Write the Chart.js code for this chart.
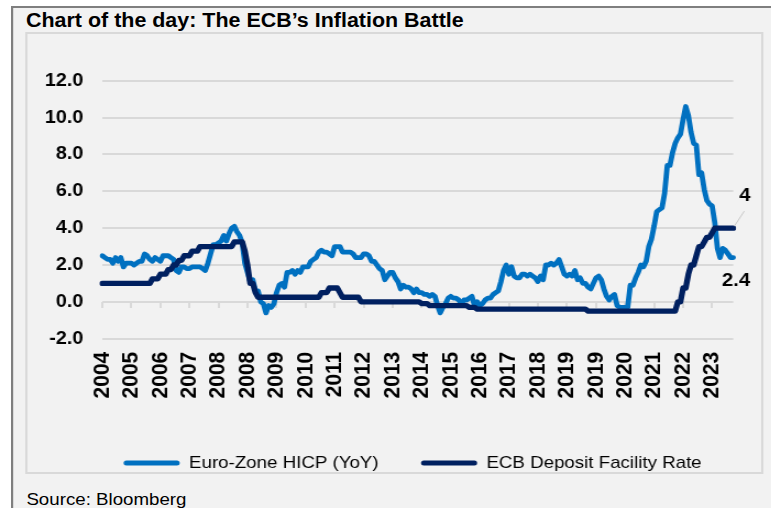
<!DOCTYPE html>
<html>
<head>
<meta charset="utf-8">
<script src="https://cdn.jsdelivr.net/npm/chart.js@4"></script>
<style>
  html, body { margin: 0; padding: 0; background: #fff; overflow: hidden; }
  body { width: 771px; height: 508px; position: relative; font-family: "Liberation Sans", Arial, sans-serif; }
  /* the source picture is stretched ~10% horizontally */
  #wrap { position: absolute; left: 0; top: 0; width: 701px; height: 508px; transform: scaleX(1.1); transform-origin: 0 0; }
  #outer { position: absolute; left: 10px; top: 6px; width: 760px; height: 600px; border-left: 2px solid #7f7f7f; border-top: 2px solid #7f7f7f; background: #f2f2f2; }
  #inner { position: absolute; left: 22.7px; top: 32px; width: 671px; height: 442px; box-sizing: border-box; border: 2px solid #d9d9d9; }
  #title { position: absolute; left: 23.6px; top: 10.8px; font-weight: bold; font-size: 19.5px; line-height: 19.5px; color: #000; white-space: nowrap; }
  #source { position: absolute; left: 24px; top: 491px; font-size: 17px; line-height: 17px; color: #000; white-space: nowrap; }
  #c { position: absolute; left: 24px; top: 34px; width: 668px; height: 448px; }
</style>
</head>
<body>
<div id="wrap">
  <div id="outer"></div>
  <div id="inner"></div>
  <div id="title">Chart of the day: The ECB’s Inflation Battle</div>
  <canvas id="c" width="668" height="448"></canvas>
  <div id="source">Source: Bloomberg</div>
</div>
<script>
// monthly, May 2004 .. Apr 2024
const hicp = [
  2.5, 2.4, 2.3, 2.3, 2.1, 2.4, 2.2, 2.4,
  1.9, 2.1, 2.1, 2.1, 2.0, 2.1, 2.2, 2.2, 2.6, 2.5, 2.3, 2.2,
  2.4, 2.3, 2.2, 2.5, 2.5, 2.5, 2.4, 2.3, 1.7, 1.6, 1.9, 1.9,
  1.8, 1.8, 1.9, 1.9, 1.9, 1.9, 1.8, 1.7, 2.1, 2.6, 3.1, 3.1,
  3.2, 3.3, 3.6, 3.3, 3.7, 4.0, 4.1, 3.8, 3.6, 3.2, 2.1, 1.6,
  1.1, 1.2, 0.6, 0.6, 0.0, -0.1, -0.6, -0.2, -0.3, -0.1, 0.5, 0.9,
  1.0, 0.8, 1.6, 1.6, 1.7, 1.5, 1.7, 1.6, 1.9, 1.9, 1.9, 2.2,
  2.3, 2.4, 2.7, 2.8, 2.7, 2.7, 2.6, 2.5, 3.0, 3.0, 3.0, 2.7,
  2.7, 2.7, 2.7, 2.6, 2.4, 2.4, 2.4, 2.6, 2.6, 2.5, 2.2, 2.2,
  2.0, 1.8, 1.7, 1.2, 1.4, 1.6, 1.6, 1.3, 1.1, 0.7, 0.9, 0.8,
  0.8, 0.7, 0.5, 0.7, 0.5, 0.5, 0.4, 0.4, 0.3, 0.4, 0.3, -0.2,
  -0.6, -0.3, -0.1, 0.2, 0.3, 0.2, 0.2, 0.1, -0.1, 0.1, 0.1, 0.2,
  0.3, -0.2, 0.0, -0.2, -0.1, 0.1, 0.2, 0.2, 0.4, 0.5, 0.6, 1.1,
  1.7, 2.0, 1.5, 1.9, 1.4, 1.3, 1.3, 1.5, 1.5, 1.4, 1.5, 1.4,
  1.3, 1.1, 1.4, 1.2, 2.0, 2.0, 2.1, 2.0, 2.1, 2.3, 1.9, 1.5,
  1.4, 1.5, 1.4, 1.7, 1.2, 1.3, 1.0, 1.0, 0.8, 0.7, 1.0, 1.3,
  1.4, 1.2, 0.7, 0.3, 0.1, 0.3, 0.4, -0.2, -0.3, -0.3, -0.3, -0.3,
  0.9, 0.9, 1.3, 1.6, 2.0, 1.9, 2.2, 3.0, 3.4, 4.1, 4.9, 5.0,
  5.1, 5.9, 7.4, 7.4, 8.1, 8.6, 8.9, 9.1, 9.9, 10.6, 10.1, 9.2,
  8.6, 8.5, 6.9, 7.0, 6.1, 5.5, 5.3, 5.2, 4.3, 2.9, 2.4, 2.9,
  2.8, 2.6, 2.4, 2.4
];
const depositRate = [
  1, 1, 1, 1, 1, 1, 1, 1,
  1, 1, 1, 1, 1, 1, 1, 1, 1, 1, 1, 1.25,
  1.25, 1.25, 1.5, 1.5, 1.5, 1.75, 1.75, 2, 2, 2.25, 2.25, 2.5,
  2.5, 2.5, 2.75, 2.75, 2.75, 3, 3, 3, 3, 3, 3, 3,
  3, 3, 3, 3, 3, 3, 3.25, 3.25, 3.25, 3.25, 2.75, 2,
  1, 1, 0.5, 0.25, 0.25, 0.25, 0.25, 0.25, 0.25, 0.25, 0.25, 0.25,
  0.25, 0.25, 0.25, 0.25, 0.25, 0.25, 0.25, 0.25, 0.25, 0.25, 0.25, 0.25,
  0.25, 0.25, 0.25, 0.5, 0.5, 0.5, 0.75, 0.75, 0.75, 0.75, 0.5, 0.25,
  0.25, 0.25, 0.25, 0.25, 0.25, 0.25, 0, 0, 0, 0, 0, 0,
  0, 0, 0, 0, 0, 0, 0, 0, 0, 0, 0, 0,
  0, 0, 0, 0, 0, -0.1, -0.1, -0.1, -0.2, -0.2, -0.2, -0.2,
  -0.2, -0.2, -0.2, -0.2, -0.2, -0.2, -0.2, -0.2, -0.2, -0.2, -0.2, -0.3,
  -0.3, -0.3, -0.4, -0.4, -0.4, -0.4, -0.4, -0.4, -0.4, -0.4, -0.4, -0.4,
  -0.4, -0.4, -0.4, -0.4, -0.4, -0.4, -0.4, -0.4, -0.4, -0.4, -0.4, -0.4,
  -0.4, -0.4, -0.4, -0.4, -0.4, -0.4, -0.4, -0.4, -0.4, -0.4, -0.4, -0.4,
  -0.4, -0.4, -0.4, -0.4, -0.4, -0.4, -0.4, -0.4, -0.5, -0.5, -0.5, -0.5,
  -0.5, -0.5, -0.5, -0.5, -0.5, -0.5, -0.5, -0.5, -0.5, -0.5, -0.5, -0.5,
  -0.5, -0.5, -0.5, -0.5, -0.5, -0.5, -0.5, -0.5, -0.5, -0.5, -0.5, -0.5,
  -0.5, -0.5, -0.5, -0.5, -0.5, -0.5, 0, 0, 0.75, 0.75, 1.5, 2,
  2, 2.5, 3, 3, 3.25, 3.5, 3.5, 3.75, 4, 4, 4, 4,
  4, 4, 4, 4
];
const seriesNames = ['Euro-Zone HICP (YoY)', 'ECB Deposit Facility Rate'];
const seriesColors = ['#0070C0', '#002060'];
const yTicks = [-2, 0, 2, 4, 6, 8, 10, 12];
const labelStep = 11; // a year label every 11 months, as in the original

const months = [];
for (let i = 0; i < hicp.length; i++) {
  const m = 4 + i; // starts May 2004
  months.push((2004 + Math.floor(m / 12)) + '-' + String(m % 12 + 1).padStart(2, '0'));
}

const FONT = '"Liberation Sans", Arial, sans-serif';
// layout in canvas px (before the 1.1 stretch)
const plotLeft = 69, plotRight = 642.6, plotTop = 46.7, plotBottom = 304.7;
const legendPad = 15, legendFont = 17, padBottom = 0.5;
const legendTail = ['     ', '  ']; // trailing room after each legend text
const canvasW = 668, canvasH = 448;
const legendH = legendFont + legendPad + 10;

const everyStep = axis => { axis.ticks = axis.ticks.filter(t => t.value % labelStep === 0); };

const endLabels = {
  id: 'endLabels',
  afterDatasetsDraw(chart) {
    const {ctx, scales: {x, y}} = chart;
    const i = months.length - 1;
    const px = x.getPixelForValue(i);
    const pRate = y.getPixelForValue(depositRate[i]);
    const pHicp = y.getPixelForValue(hicp[i]);
    ctx.save();
    ctx.strokeStyle = '#c8c8c8';
    ctx.lineWidth = 1;
    ctx.beginPath();
    ctx.moveTo(px + 1, pRate - 2);
    ctx.lineTo(px + 10, pRate - 17);
    ctx.stroke();
    ctx.fillStyle = '#000';
    ctx.font = 'bold 18.5px ' + FONT;
    ctx.textAlign = 'center';
    ctx.textBaseline = 'middle';
    ctx.fillText(String(depositRate[i]), px + 10.5, pRate - 32);
    ctx.fillText(String(hicp[i]), px + 2.5, pHicp + 23);
    ctx.restore();
  }
};

new Chart(document.getElementById('c'), {
  type: 'line',
  data: {
    labels: months,
    datasets: [{
      label: seriesNames[0],
      data: hicp,
      borderColor: seriesColors[0],
      backgroundColor: seriesColors[0],
      borderWidth: 4.8,
      order: 1
    }, {
      label: seriesNames[1],
      data: depositRate,
      borderColor: seriesColors[1],
      backgroundColor: seriesColors[1],
      borderWidth: 5.3,
      order: 0
    }]
  },
  options: {
    responsive: false,
    animation: false,
    events: [],
    layout: { padding: { left: 0, right: canvasW - plotRight, top: plotTop, bottom: padBottom } },
    elements: {
      point: { radius: 0 },
      line: { tension: 0, borderJoinStyle: 'round', borderCapStyle: 'round' }
    },
    plugins: {
      tooltip: { enabled: false },
      legend: {
        position: 'bottom',
        fullSize: false,
        labels: {
          font: { family: FONT, size: legendFont },
          color: '#000',
          boxWidth: 51,
          boxHeight: 5,
          padding: legendPad,
          useBorderRadius: true,
          borderRadius: 2.5,
          sort: (a, b) => a.datasetIndex - b.datasetIndex,
          generateLabels: chart => Chart.defaults.plugins.legend.labels.generateLabels(chart)
            .map(l => Object.assign(l, {
              text: l.text + legendTail[l.datasetIndex],
              lineWidth: 0,
              fillStyle: seriesColors[l.datasetIndex]
            }))
        }
      }
    },
    scales: {
      x: {
        type: 'category',
        position: { y: 0 },
        offset: false,
        afterBuildTicks: everyStep,
        ticks: { display: false, autoSkip: false },
        grid: { drawOnChartArea: false, drawTicks: true, tickLength: 6, color: '#d9d9d9', lineWidth: 2 },
        border: { display: false }
      },
      x2: {
        type: 'category',
        labels: months,
        position: 'bottom',
        offset: false,
        afterBuildTicks: everyStep,
        afterFit: s => { s.height = canvasH - padBottom - legendH - plotBottom; },
        ticks: {
          autoSkip: false,
          minRotation: 90,
          maxRotation: 90,
          padding: 13,
          color: '#000',
          font: { family: FONT, size: 21, weight: 'bold' },
          callback: v => months[v].slice(0, 4)
        },
        grid: { display: false, drawTicks: false },
        border: { display: false }
      },
      y: {
        min: yTicks[0],
        max: yTicks[yTicks.length - 1],
        afterFit: s => { s.width = plotLeft; },
        afterBuildTicks: axis => { axis.ticks = yTicks.map(v => ({ value: v })); },
        ticks: {
          padding: 17.3,
          color: '#000',
          font: { family: FONT, size: 18, weight: 'bold' },
          callback: v => v.toFixed(1)
        },
        grid: { color: '#d9d9d9', lineWidth: 2, drawTicks: false },
        border: { display: false }
      }
    }
  },
  plugins: [endLabels]
});
</script>
</body>
</html>
